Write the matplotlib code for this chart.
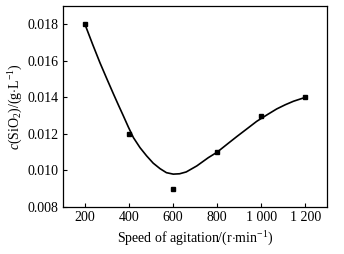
import numpy as np
import matplotlib.pyplot as plt

# ============================================================
# Data
# ============================================================
speed = [200, 400, 600, 800, 1000, 1200]
conc = [0.0180, 0.0120, 0.0090, 0.0110, 0.0130, 0.0140]

# fitted curve, traced by eye
fit_x = [200, 235, 268, 300, 329, 352, 374, 397, 420, 450, 480, 510, 541, 570,
         601, 630, 660, 708, 760, 800, 850, 890, 940, 980, 1030, 1071, 1110,
         1147, 1200]
fit_y = [0.0180, 0.0169, 0.0159, 0.0150, 0.0142, 0.01358, 0.0130, 0.01238,
         0.0118, 0.01125, 0.0108, 0.01040, 0.0101, 0.00988, 0.0098, 0.00982,
         0.00992, 0.01025, 0.0107, 0.0110, 0.01148, 0.01186, 0.01232, 0.01269,
         0.01307, 0.01337, 0.01360, 0.01379, 0.0140]

xticks = [200, 400, 600, 800, 1000, 1200]
xticklabels = ["200", "400", "600", "800", "1 000", "1 200"]
yticks = [0.008, 0.010, 0.012, 0.014, 0.016, 0.018]

# ============================================================
# Plot
# ============================================================
plt.rcParams["font.family"] = ["Liberation Serif", "DejaVu Serif"]
plt.rcParams["mathtext.fontset"] = "custom"
plt.rcParams["mathtext.rm"] = "Liberation Serif"
plt.rcParams["mathtext.it"] = "Liberation Serif:italic"

fig = plt.figure(figsize=(3.44, 2.54), dpi=100)
ax = fig.add_axes([0.183, 0.185, 0.768, 0.791])

ax.plot(fit_x, fit_y, color="black", lw=1.2)
ax.plot(speed, conc, "s", color="black", ms=3.5)

ax.set_xlim(100, 1300)
ax.set_ylim(0.008, 0.019)
ax.set_xticks(xticks)
ax.set_xticklabels(xticklabels)
ax.set_yticks(yticks)
ax.set_yticklabels([f"{v:.3f}" for v in yticks])

ax.tick_params(direction="in", length=3, width=0.8, labelsize=10, pad=3)
for s in ax.spines.values():
    s.set_linewidth(0.9)

ax.set_xlabel(r"Speed of agitation/(r$\cdot$min$^{-1}$)", fontsize=10, labelpad=4)
ax.set_ylabel(r"$c$(SiO$_2$)/(g$\cdot$L$^{-1}$)", fontsize=10, labelpad=2)

fig.savefig("out.png", dpi=100)
